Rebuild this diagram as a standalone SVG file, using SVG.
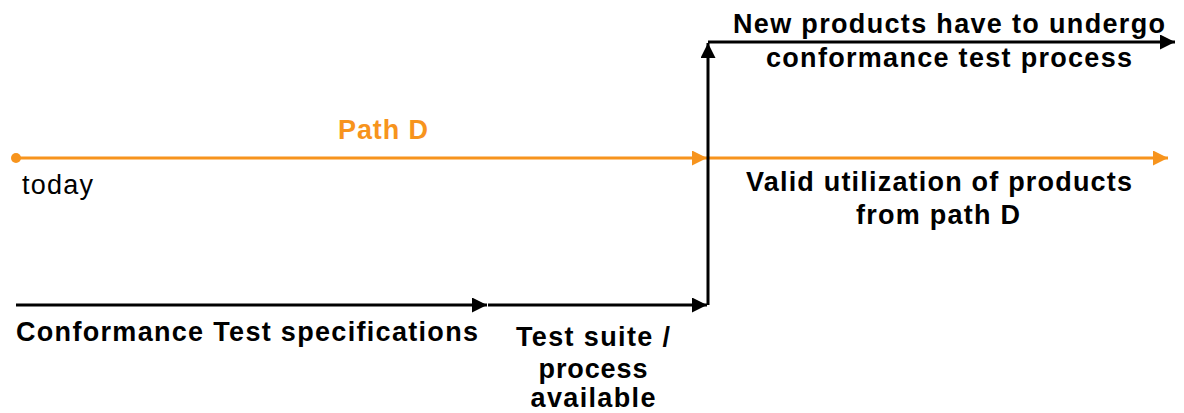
<svg xmlns="http://www.w3.org/2000/svg" width="1184" height="413" viewBox="0 0 1184 413">
<style>
text{font-family:"Liberation Sans",Arial,sans-serif;font-size:27px;fill:#000}
.b{font-weight:bold}
.o{fill:#F7941D}
.c{text-anchor:middle}
.ln{stroke:#000;stroke-width:3;fill:none}
.lo{stroke:#F7941D;stroke-width:3;fill:none}
</style>
<defs>
<marker id="ab" viewBox="0 0 10 10" refX="10" refY="5" markerWidth="5" markerHeight="5" orient="auto" markerUnits="strokeWidth"><path d="M0,0 L10,5 L0,10 z" fill="#000"/></marker>
<marker id="ao" viewBox="0 0 10 10" refX="10" refY="5" markerWidth="5" markerHeight="5" orient="auto" markerUnits="strokeWidth"><path d="M0,0 L10,5 L0,10 z" fill="#F7941D"/></marker>
</defs>
<g id="connectors">
<path class="lo" d="M16,158 H707" marker-end="url(#ao)"/>
<path class="lo" d="M708,158 H1168" marker-end="url(#ao)"/>
<path class="ln" d="M16,305 H487" marker-end="url(#ab)"/>
<path class="ln" d="M488,305 H707" marker-end="url(#ab)"/>
<path class="ln" d="M708,305 V43" marker-end="url(#ab)"/>
<path class="ln" d="M708,42 H1175" marker-end="url(#ab)"/>
<circle cx="16" cy="158" r="5" fill="#F7941D"/>
</g>
<g id="pathD"><text class="b o c" x="383" y="139" textLength="90" lengthAdjust="spacing">Path D</text></g>
<g id="today"><text x="22" y="194" textLength="71" lengthAdjust="spacing">today</text></g>
<g id="newProducts"><text class="b c" x="949" y="33" textLength="432" lengthAdjust="spacing">New products have to undergo</text><text class="b c" x="949" y="67" textLength="366" lengthAdjust="spacing">conformance test process</text></g>
<g id="validUtil"><text class="b c" x="939" y="191" textLength="386" lengthAdjust="spacing">Valid utilization of products</text><text class="b c" x="938" y="224" textLength="164" lengthAdjust="spacing">from path D</text></g>
<g id="specs"><text class="b" x="16" y="341" textLength="462" lengthAdjust="spacing">Conformance Test specifications</text></g>
<g id="testSuite"><text class="b c" x="593" y="346" textLength="154" lengthAdjust="spacing">Test suite /</text><text class="b c" x="593" y="378" textLength="109" lengthAdjust="spacing">process</text><text class="b c" x="593" y="407" textLength="125" lengthAdjust="spacing">available</text></g>
</svg>
